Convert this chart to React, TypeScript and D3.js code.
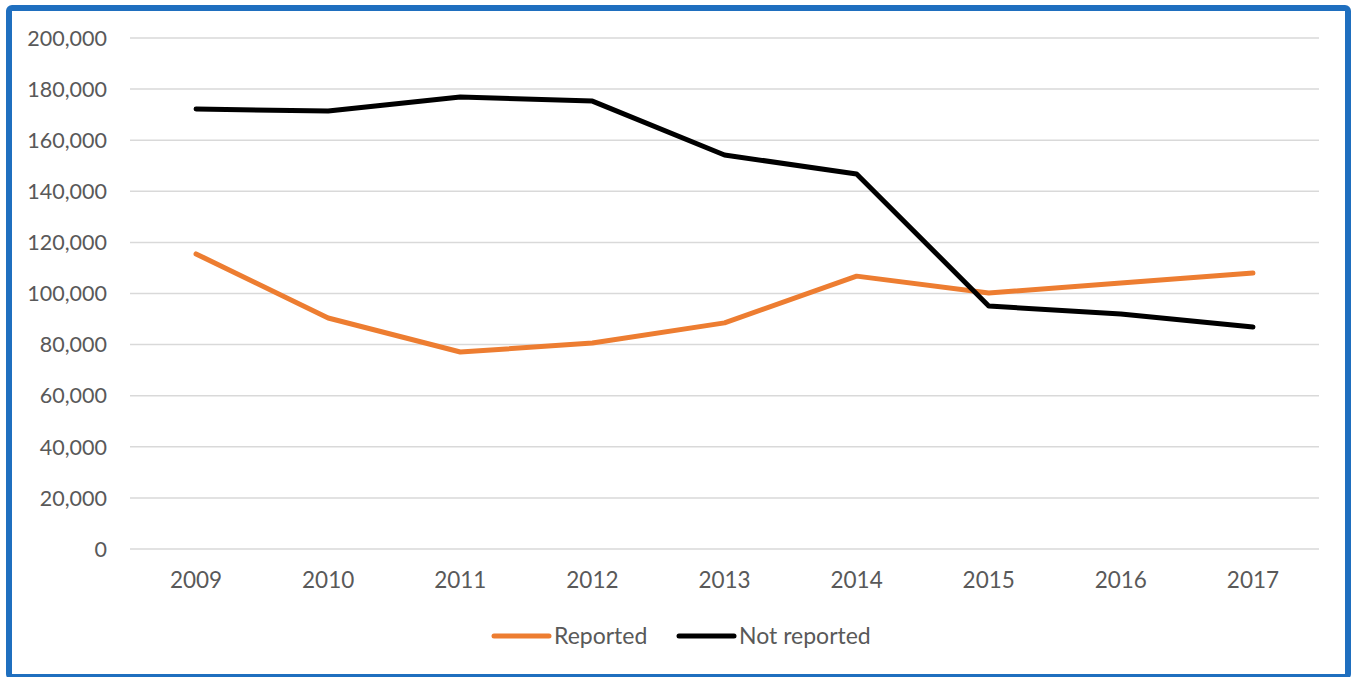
import React, { useEffect, useRef } from 'react';
import * as d3 from 'd3';

const years = ['2009', '2010', '2011', '2012', '2013', '2014', '2015', '2016', '2017'];
const reported = [115500, 90400, 77100, 80600, 88500, 106800, 100200, 104100, 108000];
const notReported = [172200, 171400, 176900, 175300, 154200, 146800, 95100, 92000, 86900];
const yTicks = [0, 20000, 40000, 60000, 80000, 100000, 120000, 140000, 160000, 180000, 200000];

const seriesList = [
    { name: 'Reported', values: reported, color: '#ED7D31' },
    { name: 'Not reported', values: notReported, color: '#000000' },
];

function App() {
    const svgRef = useRef<SVGSVGElement>(null);

    useEffect(() => {
        const svg = d3.select(svgRef.current);
        svg.selectAll('*').remove();

        const width = 1351;
        const height = 677;
        const font = 'Lato, "Open Sans", sans-serif';
        const textColor = '#595959';

        // outer frame
        svg.append('rect')
            .attr('x', 0).attr('y', 0).attr('width', width).attr('height', height)
            .attr('fill', '#ffffff');
        svg.append('rect')
            .attr('x', 9).attr('y', 8).attr('width', width - 12).attr('height', height - 8)
            .attr('rx', 3)
            .attr('fill', 'none')
            .attr('stroke', '#1F6FBF')
            .attr('stroke-width', 6);

        const xScale = d3.scaleBand().domain(years).range([130, 1319]);
        const yScale = d3.scaleLinear().domain([0, 200000]).range([549, 38]);
        const cx = (y: string) => (xScale(y) ?? 0) + xScale.bandwidth() / 2;

        // gridlines
        svg.append('g')
            .selectAll('line')
            .data(yTicks)
            .enter()
            .append('line')
            .attr('x1', 130).attr('x2', 1319)
            .attr('y1', d => yScale(d)).attr('y2', d => yScale(d))
            .attr('stroke', '#D9D9D9')
            .attr('stroke-width', 1.5);

        // y labels
        svg.append('g')
            .selectAll('text')
            .data(yTicks)
            .enter()
            .append('text')
            .attr('x', 107)
            .attr('y', d => yScale(d))
            .attr('dy', '0.36em')
            .attr('text-anchor', 'end')
            .style('font-family', font)
            .style('font-size', '21.5px')
            .style('fill', textColor)
            .text(d => d3.format(',')(d));

        // x labels
        svg.append('g')
            .selectAll('text')
            .data(years)
            .enter()
            .append('text')
            .attr('x', d => cx(d))
            .attr('y', 588)
            .attr('text-anchor', 'middle')
            .style('font-family', font)
            .style('font-size', '22.5px')
            .style('fill', textColor)
            .text(d => d);

        const lineGenerator = d3.line<number>()
            .x((_, i) => cx(years[i]))
            .y(d => yScale(d));

        seriesList.forEach(s => {
            svg.append('path')
                .datum(s.values)
                .attr('fill', 'none')
                .attr('stroke', s.color)
                .attr('stroke-width', 5)
                .attr('stroke-linejoin', 'round')
                .attr('stroke-linecap', 'round')
                .attr('d', lineGenerator);
        });

        // legend
        const legendX = [494, 679];
        seriesList.forEach((s, i) => {
            const g = svg.append('g').attr('transform', `translate(${legendX[i]},636)`);
            g.append('line')
                .attr('x1', 0).attr('x2', 55)
                .attr('stroke', s.color)
                .attr('stroke-width', 5)
                .attr('stroke-linecap', 'round');
            g.append('text')
                .attr('x', 60)
                .attr('dy', '0.36em')
                .style('font-family', font)
                .style('font-size', '23px')
                .style('fill', textColor)
                .text(s.name);
        });
    }, []);

    return (
        <svg ref={svgRef} width={1351} height={677} style={{ position: 'absolute', left: 0, top: 0 }}></svg>
    );
}

export default App;
